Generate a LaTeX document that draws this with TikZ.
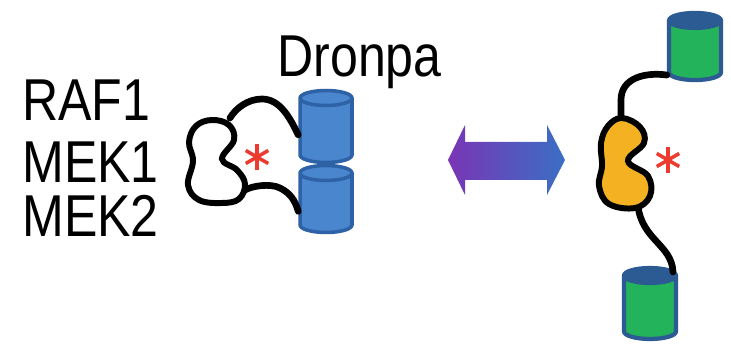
\documentclass[tikz,border=0pt]{standalone}
\usepackage{fontspec}
\setmainfont{Liberation Sans}
\usetikzlibrary{shapes.geometric}

\definecolor{dronblue}{HTML}{4A86CE}
\definecolor{dronedge}{HTML}{2E62A6}
\definecolor{darkedge}{HTML}{2C5B94}
\definecolor{drongreen}{HTML}{22B35B}
\definecolor{kinyellow}{HTML}{F4B223}
\definecolor{starred}{HTML}{EE3B30}
\definecolor{arrpurple}{HTML}{7A35B5}
\definecolor{arrblue}{HTML}{3A6FC4}

% taller sans labels
\newcommand{\tall}[1]{\scalebox{1}[1.18]{#1}}

\begin{document}
\begin{tikzpicture}[x=0.02cm, y=-0.02cm]
	\tikzset{lbltext/.style = {font=\fontsize{28.5}{34}\selectfont, inner sep=0pt, text depth=0pt, anchor=base west},
		dron/.style = {shape=cylinder, shape border rotate=90, aspect=0.3, cylinder uses custom fill,
			minimum width=1.04cm, line width=2pt, inner sep=0.5cm, anchor=shape center},
		blueDron/.style = {dron, draw=dronedge, cylinder body fill=dronblue, cylinder end fill=dronblue},
		greenDron/.style = {dron, draw=darkedge, line width=2.4pt, cylinder body fill=drongreen, cylinder end fill=darkedge},
		linker/.style = {line width=3.8pt, line cap=round},
		kinase/.style = {line width=3.4pt, draw=black},
		starline/.style = {draw=starred, line width=2pt}}
	
	\useasboundingbox (0,0) rectangle (731,347);
	
	% labels
	\node[lbltext] (raf) at (22,121) {\tall{RAF1}};
	\node[lbltext] (mekA) at (22,183) {\tall{MEK1}};
	\node[lbltext] (mekB) at (22,237) {\tall{MEK2}};
	\node[lbltext] (dronpa) at (277,77) {\tall{Dronpa}};
	
	% closed state: two dronpa barrels stacked
	\node[blueDron, minimum height=1.44cm] (dronA) at (326,126.5) {};
	\node[blueDron, minimum height=1.34cm] (dronB) at (326,199) {};
	
	\coordinate (kinLa) at (230,118);
	\coordinate (kinLb) at (245,190);
	\draw[linker] (kinLa) .. controls (236,108) and (248,99) .. (262,99)
		.. controls (280,99) and (290,118) .. (dronA.west);
	\draw[linker] (kinLb) .. controls (252,186) and (270,183) .. (280,188)
		.. controls (290,193) and (295,200) .. ([yshift=-0.08cm]dronB.west);
	\draw[kinase, fill=white] plot[smooth cycle, tension=0.65] coordinates
		{(212,120) (229,125) (234,140) (222,159) (237,170) (245,184) (239,199) (222,203) (199,200) (188,185) (193,161) (189,142) (196,126)};
	
	\foreach \a in {90,30,150}
		\draw[starline] (257,157) ++(\a:13) -- ++(\a+180:26);
	
	% switch arrow
	\shade[left color=arrpurple, right color=arrblue] (448,160) -- (465,125) -- (465,142) -- (547,142) -- (547,125)
		-- (565,160) -- (547,195) -- (547,180) -- (465,180) -- (465,195) -- cycle;
	
	% open state
	\node[greenDron, minimum height=1.3cm] (dronC) at (695,46.5) {};
	\node[greenDron, minimum height=1.42cm] (dronD) at (650,303.5) {};
	
	\coordinate (kinRa) at (621,118);
	\coordinate (kinRb) at (638,206);
	\coordinate (dronDtop) at (673,272);
	\draw[linker] ([yshift=-0.4cm]dronC.west) .. controls (645,72) and (621,78) .. (621,100) -- (kinRa);
	\draw[linker] (kinRb) .. controls (642,240) and (672,245) .. (dronDtop);
	\draw[kinase, fill=kinyellow] plot[smooth cycle, tension=0.65] coordinates
		{(622,118) (640,127) (644,143) (628,161) (648,176) (650,196) (635,208) (609,204) (599,186) (602,166) (601,143) (608,126)};
	
	\foreach \a in {90,30,150}
		\draw[starline] (668,160) ++(\a:13) -- ++(\a+180:26);
\end{tikzpicture}
\end{document}
